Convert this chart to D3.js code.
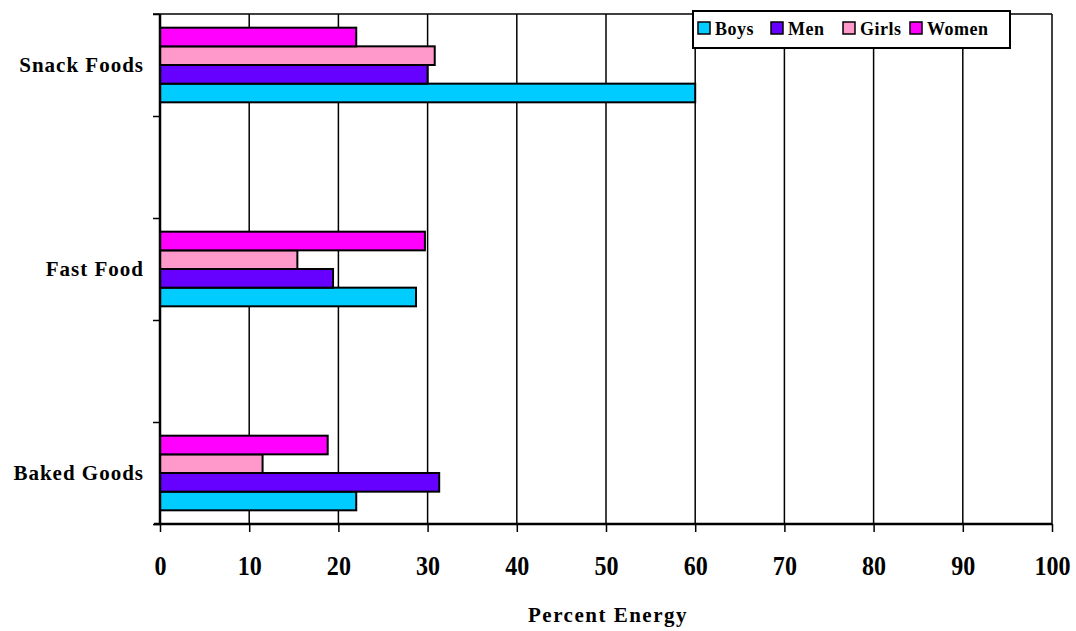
<!DOCTYPE html>
<html><head><meta charset="utf-8">
<script src="https://cdn.jsdelivr.net/npm/d3@7"></script>
<style>body{margin:0;background:#fff}svg{display:block}</style>
</head><body>
<svg id="c" width="1076" height="631"></svg>
<script>
const categories = ["Snack Foods", "", "Fast Food", "", "Baked Goods"];
const seriesNames = ["Boys", "Men", "Girls", "Women"];
const seriesColors = ["#00CCFF", "#6600FF", "#FF99CC", "#FF00FF"];
const boys  = [60.0, null, 28.7, null, 22.0];
const men   = [30.0, null, 19.4, null, 31.3];
const girls = [30.8, null, 15.4, null, 11.5];
const women = [22.0, null, 29.7, null, 18.8];
const xTicks = [0,10,20,30,40,50,60,70,80,90,100];
const xTitle = "Percent Energy";

const seriesValues = [boys, men, girls, women];
const svg = d3.select("#c");
const font = "'Liberation Serif', 'Times New Roman', serif";
const L = 160, R = 1052, T = 14, B = 524;

const x = d3.scaleLinear().domain([0,100]).range([L,R]);
const y = d3.scaleBand().domain(d3.range(categories.length)).range([T,B]);
// inner band: reversed so Boys at bottom
const inner = d3.scaleBand().domain([3,2,1,0]).range([1, y.bandwidth()-1]).paddingOuter(0.68);

// gridlines
svg.append("g").selectAll("line").data(xTicks.slice(1)).join("line")
  .attr("x1", d=>x(d)).attr("x2", d=>x(d)).attr("y1", T).attr("y2", B)
  .attr("stroke", "#000").attr("stroke-width", 1.5);
// top border
svg.append("line").attr("x1", L-7).attr("x2", R).attr("y1", T).attr("y2", T)
  .attr("stroke", "#000").attr("stroke-width", 1.5);

// bars
categories.forEach((c, ci) => {
  seriesValues.forEach((vals, si) => {
    const v = vals[ci];
    if (v == null) return;
    svg.append("rect")
      .attr("x", x(0)).attr("y", y(ci) + inner(si))
      .attr("width", x(v) - x(0)).attr("height", inner.bandwidth())
      .attr("fill", seriesColors[si]).attr("stroke", "#000").attr("stroke-width", 2);
  });
});

// x axis
const xAxis = d3.axisBottom(x).tickValues(xTicks).tickSize(8).tickPadding(23);
const gx = svg.append("g").attr("transform", `translate(0,${B})`).call(xAxis);
gx.select(".domain").attr("stroke-width", 2.5).attr("d", `M${L-6},0H${R}`);
gx.selectAll(".tick line").attr("stroke-width", 1.5);
gx.selectAll("text").attr("font-family", font).attr("font-weight", "bold")
  .attr("font-size", 28).attr("fill", "#000").attr("transform", "scale(0.86,1)");

// y axis
const yLin = d3.scaleLinear().domain([0, categories.length]).range([T, B]);
const gy = svg.append("g").attr("transform", `translate(${L},0)`)
  .call(d3.axisLeft(yLin).tickValues(d3.range(categories.length + 1)).tickSize(7).tickFormat(""));
gy.select(".domain").attr("stroke-width", 2.5).attr("d", `M0,${T}V${B}`);
gy.selectAll(".tick line").attr("stroke-width", 1.5);

svg.append("g").selectAll("text").data(categories).join("text")
  .attr("x", 144).attr("y", (d,i)=>y(i)+y.bandwidth()/2)
  .attr("dy", "0.35em").attr("text-anchor", "end")
  .attr("font-family", font).attr("font-weight", "bold").attr("font-size", 21)
  .attr("letter-spacing", 1)
  .text(d=>d);

// axis title
svg.append("text").attr("x", (L+R)/2 + 2).attr("y", 622)
  .attr("text-anchor", "middle").attr("font-family", font).attr("font-weight", "bold")
  .attr("font-size", 21).attr("letter-spacing", 1.5).text(xTitle);

// legend
const lg = svg.append("g");
lg.append("rect").attr("x", 693).attr("y", 11).attr("width", 317).attr("height", 37)
  .attr("fill", "#fff").attr("stroke", "#000").attr("stroke-width", 2);
const legX = [698, 771, 843, 910];
seriesNames.forEach((n, i) => {
  lg.append("rect").attr("x", legX[i]).attr("y", 22).attr("width", 12).attr("height", 12)
    .attr("fill", seriesColors[i]).attr("stroke", "#000").attr("stroke-width", 1.5);
  lg.append("text").attr("x", legX[i] + 17).attr("y", 35)
    .attr("font-family", font).attr("font-weight", "bold").attr("font-size", 18)
    .attr("letter-spacing", 0.5).text(n);
});
</script>
</body></html>
